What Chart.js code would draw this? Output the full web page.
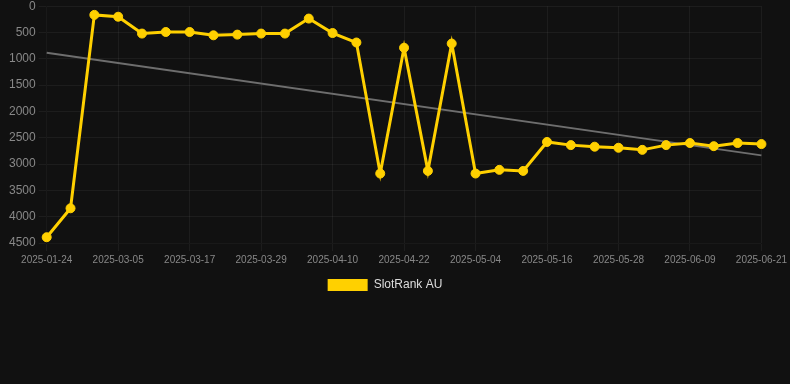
<!DOCTYPE html>
<html>
<head>
<meta charset="utf-8">
<script src="https://cdn.jsdelivr.net/npm/chart.js@4.4.0/dist/chart.umd.min.js"></script>
<style>
  html, body { margin: 0; padding: 0; background: #111111; overflow: hidden; }
  #wrap { width: 790px; height: 305px; margin-top: -4px; }
</style>
</head>
<body>
<div id="wrap"><canvas id="rankChart"></canvas></div>
<script>
const dates = [
    '2025-01-24', '2025-02-25', '2025-03-01', '2025-03-05', '2025-03-09', '2025-03-13',
    '2025-03-17', '2025-03-21', '2025-03-25', '2025-03-29', '2025-04-02', '2025-04-06',
    '2025-04-10', '2025-04-14', '2025-04-18', '2025-04-22', '2025-04-26', '2025-04-30',
    '2025-05-04', '2025-05-08', '2025-05-12', '2025-05-16', '2025-05-20', '2025-05-24',
    '2025-05-28', '2025-06-01', '2025-06-05', '2025-06-09', '2025-06-13', '2025-06-17',
    '2025-06-21'
];
const slotRank = [
    4390, 3840, 165, 200, 520, 490, 490, 553, 540, 520, 520,
    235, 510, 690, 3180, 790, 3130, 710, 3180, 3110, 3130,
    2580, 2640, 2670, 2690, 2730, 2640, 2600, 2660, 2600, 2620
];
// trend line: only the two end values, drawn straight between them
const trendStart = 885;
const trendEnd = 2835;
const yTicks = [0, 500, 1000, 1500, 2000, 2500, 3000, 3500, 4000, 4500];

const trend = dates.map((d, i) => i === 0 ? trendStart : (i === dates.length - 1 ? trendEnd : null));

const ctx = document.getElementById('rankChart').getContext('2d');
const chart = new Chart(ctx, {
    type: 'line',
    data: {
        labels: dates,
        datasets: [{
            label: 'SlotRank AU',
            data: slotRank,
            borderColor: '#FFD000',
            backgroundColor: '#FFD000',
            borderWidth: 3,
            pointRadius: 4.5,
            pointBorderWidth: 1,
            pointHoverRadius: 5,
            tension: 0,
            fill: false,
            order: 1
        }, {
            label: 'Trend',
            data: trend,
            borderColor: '#6e6e6e',
            borderWidth: 2,
            pointRadius: 0,
            spanGaps: true,
            fill: false,
            order: 2
        }]
    },
    options: {
        responsive: true,
        maintainAspectRatio: false,
        animation: false,
        layout: { padding: { left: 6, right: 26, top: 0, bottom: 0 } },
        scales: {
            x: {
                grid: { color: 'rgba(255,255,255,0.05)' },
                ticks: {
                    color: '#888',
                    font: { size: 10, family: 'Liberation Sans, Arial, sans-serif' },
                    maxRotation: 0,
                    autoSkip: false,
                    callback: function(val, idx) {
                        return idx % 3 === 0 ? this.getLabelForValue(val) : null;
                    }
                }
            },
            y: {
                reverse: true,
                min: 0,
                max: 4500,
                afterBuildTicks: axis => { axis.ticks = yTicks.map(v => ({ value: v })); },
                grid: { color: 'rgba(255,255,255,0.05)' },
                ticks: {
                    color: '#888',
                    font: { size: 12, family: 'Liberation Sans, Arial, sans-serif' },
                    callback: v => String(v)
                }
            }
        },
        plugins: {
            legend: {
                position: 'bottom',
                labels: {
                    color: '#ddd',
                    boxWidth: 40,
                    boxHeight: 12,
                    font: { size: 12, family: 'Liberation Sans, Arial, sans-serif' },
                    filter: item => item.text !== 'Trend',
                    generateLabels: c => Chart.defaults.plugins.legend.labels.generateLabels(c)
                        .map(item => ({ ...item, lineWidth: 0 }))
                }
            },
            tooltip: { enabled: true }
        }
    }
});
</script>
</body>
</html>
